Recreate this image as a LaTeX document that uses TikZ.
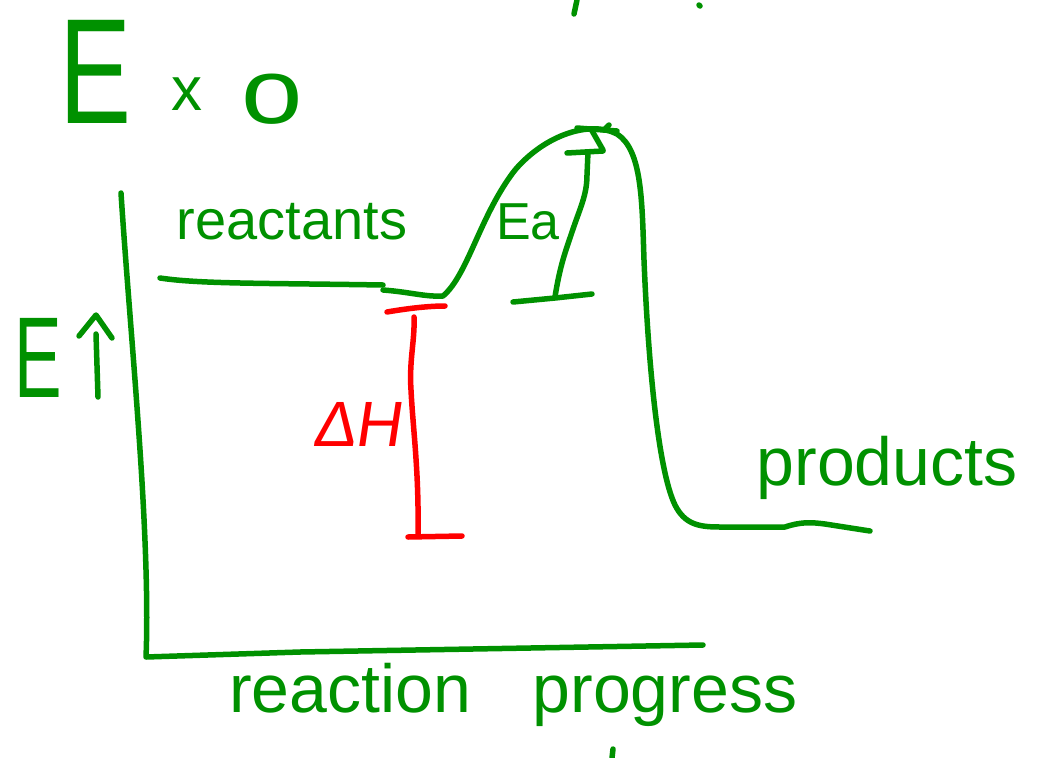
\documentclass[tikz,border=0pt]{standalone}
\usepackage{fontspec}
\setmainfont{Liberation Sans}
\definecolor{pen}{RGB}{0,145,0}
\definecolor{redpen}{RGB}{255,0,0}
\begin{document}
\begin{tikzpicture}[x=1pt,y=1pt,
  gstroke/.style={draw=pen,line width=5.5pt,line cap=round,line join=round},
  rstroke/.style={draw=redpen,line width=5.5pt,line cap=round,line join=round},
  hand/.style={text=pen,inner sep=0pt,anchor=center},
  redhand/.style={text=redpen,inner sep=0pt,anchor=center}]
\fill[white] (0,0) rectangle (1042,-758);
\useasboundingbox (0,0) rectangle (1042,-758);

% title
\node[hand,font=\fontsize{150}{150}\selectfont,xscale=0.72] (tE) at (96,-72) {E};
\node[hand,font=\fontsize{62}{62}\selectfont] (tx) at (187,-94) {x};
\node[hand,font=\fontsize{92}{92}\selectfont,xscale=1.2] (to) at (272,-99) {o};

% stray marks at the edges
\draw[gstroke] (574,-14) -- (577,0);
\draw[gstroke] (699,-5) -- (700,-6);
\draw[gstroke] (613,-749) -- (612,-758);

% axes
\draw[gstroke] (121,-193) .. controls (126,-270) and (134,-360) .. (140,-450)
  .. controls (146,-540) and (148,-610) .. (146,-657)
  -- (300,-652) -- (703,-645);

% E with arrow
\node[hand,font=\fontsize{115}{115}\selectfont,xscale=0.62] (yE) at (38,-358) {E};
\draw[gstroke] (98,-397) -- (96,-334);
\draw[gstroke] (79,-336) -- (96,-315) -- (112,-338);

% energy curve
\draw[gstroke] (160,-278) .. controls (200,-284) and (260,-283) .. (383,-285);
\draw[gstroke] (383,-290) .. controls (410,-292) and (425,-297) .. (443,-296)
  .. controls (468,-275) and (480,-215) .. (515,-170)
  .. controls (545,-135) and (590,-120) .. (617,-134)
  .. controls (642,-150) and (642,-200) .. (644,-260)
  .. controls (648,-360) and (658,-470) .. (675,-505)
  .. controls (685,-525) and (700,-527) .. (720,-527)
  -- (785,-527) .. controls (800,-522) and (810,-522) .. (825,-524) -- (870,-531);

% reactants / products
\node[hand,font=\fontsize{56}{56}\selectfont] (reac) at (292,-222) {reactants};
\node[hand,font=\fontsize{68}{68}\selectfont] (prod) at (887,-468) {products};

% activation energy
\node[hand,font=\fontsize{52}{52}\selectfont] (ea) at (528,-222) {Ea};
\draw[gstroke] (555,-297) .. controls (560,-265) and (566,-250) .. (572,-232)
  .. controls (580,-208) and (587,-195) .. (587,-175) -- (588,-152);
\draw[gstroke] (513,-302) -- (555,-298) -- (592,-294);
\draw[gstroke] (567,-153) -- (603,-151);
\draw[gstroke] (577,-128) -- (617,-131);
\draw[gstroke] (591,-129) -- (603,-150);
\draw[gstroke] (604,-130) -- (609,-125);

% delta H
\draw[rstroke] (387,-312) .. controls (410,-308) and (430,-306) .. (445,-306);
\draw[rstroke] (414,-317) .. controls (415,-340) and (409,-360) .. (411,-390)
  .. controls (413,-430) and (419,-470) .. (418,-535);
\draw[rstroke] (408,-537) -- (462,-536);
\node[redhand,font=\fontsize{64}{64}\selectfont,xslant=0.15] (dh) at (360,-424) {ΔH};

% x-axis label
\node[hand,font=\fontsize{68}{68}\selectfont,anchor=base] (xl1) at (350,-712) {reaction};
\node[hand,font=\fontsize{68}{68}\selectfont,anchor=base] (xl2) at (665,-712) {progress};
\end{tikzpicture}
\end{document}
